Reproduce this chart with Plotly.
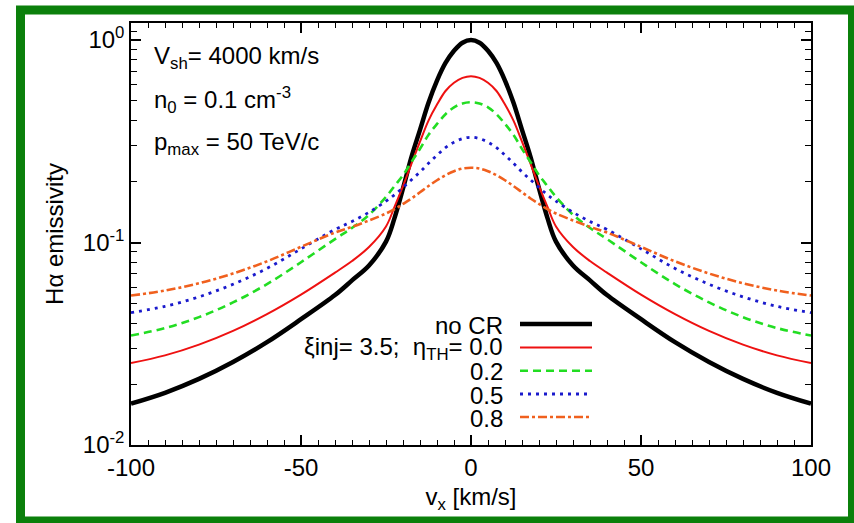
import plotly.graph_objects as go

# ---------------- data ----------------
vx = [-100, -90, -80, -70, -60, -50, -40, -35, -30, -25, -22.5, -20, -17.5, -15, -12.5, -10, -7.5, -5, -2.5,
      0, 2.5, 5, 7.5, 10, 12.5, 15, 17.5, 20, 22.5, 25, 30, 35, 40, 50, 60, 70, 80, 90, 100]

no_cr = [0.016, 0.0181, 0.0212, 0.0257, 0.0322, 0.0418, 0.055, 0.065, 0.077, 0.101, 0.132, 0.185, 0.265, 0.36, 0.49, 0.63, 0.77, 0.885, 0.97,
         1.0, 0.97, 0.885, 0.77, 0.63, 0.49, 0.36, 0.265, 0.185, 0.132, 0.101, 0.077, 0.065, 0.055, 0.0418, 0.0322, 0.0257, 0.0212, 0.0181, 0.016]

eta_00 = [0.0254, 0.0277, 0.0313, 0.0366, 0.0443, 0.0553, 0.071, 0.081, 0.095, 0.12, 0.15, 0.19, 0.245, 0.315, 0.40, 0.48, 0.56, 0.615, 0.65,
          0.663, 0.65, 0.615, 0.56, 0.48, 0.40, 0.315, 0.245, 0.19, 0.15, 0.12, 0.095, 0.081, 0.071, 0.0553, 0.0443, 0.0366, 0.0313, 0.0277, 0.0254]

eta_02 = [0.0347, 0.0378, 0.0428, 0.0506, 0.0623, 0.0799, 0.104, 0.118, 0.137, 0.168, 0.19, 0.215, 0.25, 0.29, 0.34, 0.385, 0.43, 0.465, 0.486,
          0.493, 0.486, 0.465, 0.43, 0.385, 0.34, 0.29, 0.25, 0.215, 0.19, 0.168, 0.137, 0.118, 0.104, 0.0799, 0.0623, 0.0506, 0.0428, 0.0378, 0.0347]

eta_05 = [0.045, 0.0484, 0.0539, 0.0622, 0.0745, 0.093, 0.116, 0.127, 0.141, 0.16, 0.172, 0.187, 0.204, 0.223, 0.246, 0.27, 0.294, 0.313, 0.326,
          0.331, 0.326, 0.313, 0.294, 0.27, 0.246, 0.223, 0.204, 0.187, 0.172, 0.16, 0.141, 0.127, 0.116, 0.093, 0.0745, 0.0622, 0.0539, 0.0484, 0.045]

eta_08 = [0.0547, 0.0579, 0.0629, 0.0703, 0.0807, 0.0952, 0.112, 0.1195, 0.1285, 0.139, 0.146, 0.155, 0.165, 0.177, 0.19, 0.203, 0.215, 0.225, 0.232,
          0.234, 0.232, 0.225, 0.215, 0.203, 0.19, 0.177, 0.165, 0.155, 0.146, 0.139, 0.1285, 0.1195, 0.112, 0.0952, 0.0807, 0.0703, 0.0629, 0.0579, 0.0547]

x_ticks = [-100, -50, 0, 50, 100]
x_ticklabels = ["-100", "-50", "0", "50", "100"]
y_ticks = [0.01, 0.1, 1]
y_ticklabels = ["10<sup>-2</sup>", "10<sup>-1</sup>", "10<sup>0</sup>"]
legend_labels = ["no CR", "\u03beinj= 3.5;\u00a0\u00a0\u03b7<sub>TH</sub>= 0.0", "0.2", "0.5", "0.8"]

# ---------------- styles ----------------
FONT = "Liberation Sans, Arial, sans-serif"
FS = 24
series = [
    (no_cr, "#000000", 4.5, "solid"),
    (eta_00, "#ee1111", 2.0, "solid"),
    (eta_02, "#22dd22", 2.6, "8px,5px"),
    (eta_05, "#1a1acc", 2.8, "3px,5px"),
    (eta_08, "#f0601e", 2.6, "9px,3px,3px,3px"),
]

fig = go.Figure()
for vals, col, w, dash in series:
    fig.add_trace(go.Scatter(x=vx, y=vals, mode="lines",
                             line=dict(color=col, width=w, dash=dash, shape="spline", smoothing=1.0),
                             showlegend=False, hoverinfo="skip"))

# plot area geometry in pixels
L, R, T, B = 131, 43, 23, 78
W, H = 854, 523
pw, ph = W - L - R, H - T - B

def px(x):
    return (x - L) / pw

def py(y):
    return (H - B - y) / ph

shapes = []
annotations = []

# legend (text + sample lines)
rows_y = [324, 347.5, 370.7, 394, 417]
for (vals, col, w, dash), lab, yy in zip(series, legend_labels, rows_y):
    shapes.append(dict(type="line", xref="paper", yref="paper",
                       x0=px(520), x1=px(592), y0=py(yy), y1=py(yy),
                       line=dict(color=col, width=w, dash=dash)))
    annotations.append(dict(xref="paper", yref="paper", x=px(505), y=py(yy + 1),
                            xanchor="right", yanchor="middle", showarrow=False,
                            text=lab, font=dict(family=FONT, size=FS, color="black")))

# parameter text in upper-left
params = ["V<sub>sh</sub>= 4000 km/s", "n<sub>0</sub> = 0.1 cm<sup>-3</sup>", "p<sub>max</sub> = 50 TeV/c"]
for t, yy in zip(params, [57, 100, 143]):
    annotations.append(dict(xref="paper", yref="paper", x=px(152), y=py(yy),
                            xanchor="left", yanchor="middle", showarrow=False,
                            text=t, font=dict(family=FONT, size=FS, color="black")))

# green frame
shapes.append(dict(type="rect", xref="paper", yref="paper", layer="above",
                   x0=px(20.5), x1=px(852.5), y0=py(521), y1=py(10),
                   line=dict(color="#0b800b", width=9)))

fig.update_layout(
    width=W, height=H,
    margin=dict(l=L, r=R, t=T, b=B),
    paper_bgcolor="white", plot_bgcolor="white",
    font=dict(family=FONT, size=FS, color="black"),
    shapes=shapes, annotations=annotations,
)

fig.update_xaxes(range=[-100, 100], tickvals=x_ticks, ticktext=x_ticklabels, ticks="inside", ticklen=10, tickwidth=1.5,
                 tickcolor="black", showline=True, linecolor="black", linewidth=1.5, mirror="ticks",
                 showgrid=False, zeroline=False, tickfont=dict(size=FS),
                 minor=dict(ticks="inside", ticklen=5, tickwidth=1.2, tickcolor="black", dtick=5, showgrid=False),
                 title=dict(text="v<sub>x</sub> [km/s]", font=dict(size=FS), standoff=9))

minor_y = [m * d for d in (0.01, 0.1) for m in range(2, 10)] + [1.1, 1.2]
fig.update_yaxes(type="log", range=[-2, 0.084], tickvals=y_ticks, ticktext=y_ticklabels,
                 ticks="inside", ticklen=10, tickwidth=1.5, tickcolor="black",
                 showline=True, linecolor="black", linewidth=1.5, mirror="ticks",
                 showgrid=False, zeroline=False, tickfont=dict(size=FS),
                 minor=dict(ticks="inside", ticklen=6, tickwidth=1.2, tickcolor="black",
                            tickmode="array", tickvals=minor_y, showgrid=False),
                 title=dict(text="H\u03b1 emissivity", font=dict(size=FS), standoff=12))

fig.write_html("out.html")
